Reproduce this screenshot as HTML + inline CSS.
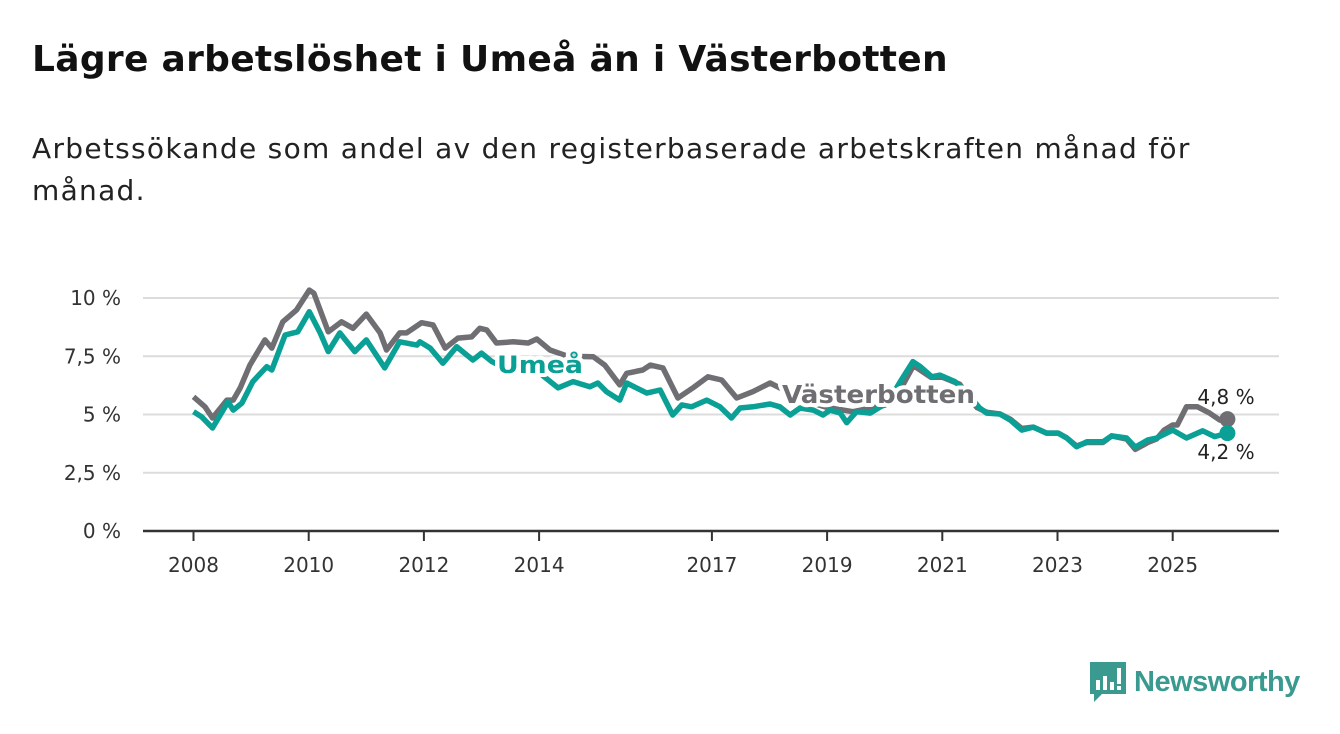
<!DOCTYPE html>
<html><head><meta charset="utf-8">
<style>
body{margin:0;width:1340px;height:734px;background:#fff;font-family:"DejaVu Sans","Liberation Sans",sans-serif;overflow:hidden;position:relative}
h1{position:absolute;left:32px;top:39px;margin:0;font-size:36px;font-weight:bold;color:#111;white-space:nowrap;letter-spacing:0.3px}
p.sub{position:absolute;left:32px;top:128px;margin:0;font-size:28px;color:#222;line-height:42px;width:1290px;letter-spacing:1.3px;white-space:nowrap}
svg{position:absolute;left:0;top:0}
</style></head>
<body>
<h1>Lägre arbetslöshet i Umeå än i Västerbotten</h1>
<p class="sub">Arbetssökande som andel av den registerbaserade arbetskraften månad för<br>månad.</p>
<svg id="chart" width="1340" height="734"></svg>
<div style="position:absolute;left:1088px;top:660px;display:flex;align-items:center">
<svg width="40" height="44" viewBox="0 0 40 44" style="position:static"><path d="M2 2h36v32H14l-8 8v-8H2z" fill="#3a9a8f"/><rect x="8" y="20" width="4" height="10" fill="#fff"/><rect x="15" y="16" width="4" height="14" fill="#fff"/><rect x="22" y="22" width="4" height="8" fill="#fff"/><rect x="29" y="8" width="4" height="16" fill="#fff"/><rect x="29" y="26" width="4" height="4" fill="#fff"/></svg>
<span style="font-family:'Liberation Sans',sans-serif;font-size:29px;font-weight:bold;color:#3a9a8f;margin-left:6px;letter-spacing:-0.5px">Newsworthy</span>
</div>
<script>
const yTicks=[0,2.5,5,7.5,10];
const yTickLabels=["0 %","2,5 %","5 %","7,5 %","10 %"];
const xTicks=[2008,2010,2012,2014,2017,2019,2021,2023,2025];
const umeaDates=[2008,2008.14,2008.33,2008.6,2008.69,2008.84,2009.03,2009.27,2009.36,2009.59,2009.81,2010.01,2010.2,2010.34,2010.54,2010.8,2011.0,2011.32,2011.58,2011.88,2011.93,2012.11,2012.33,2012.57,2012.85,2013.0,2013.18,2013.4,2013.7,2014.0,2014.2,2014.33,2014.59,2014.88,2015.02,2015.17,2015.4,2015.52,2015.87,2016.1,2016.32,2016.48,2016.65,2016.91,2017.14,2017.34,2017.49,2017.71,2018.01,2018.18,2018.36,2018.53,2018.76,2018.93,2019.05,2019.23,2019.34,2019.51,2019.75,2019.89,2020.05,2020.27,2020.49,2020.62,2020.82,2020.96,2021.22,2021.4,2021.65,2021.77,2022.0,2022.18,2022.38,2022.58,2022.81,2023.01,2023.16,2023.33,2023.51,2023.79,2023.94,2024.2,2024.35,2024.57,2024.72,2025.0,2025.24,2025.52,2025.73,2025.95];
const umeaValues=[5.12,4.9,4.42,5.55,5.19,5.49,6.41,7.05,6.91,8.41,8.55,9.41,8.5,7.7,8.5,7.7,8.2,7.0,8.12,7.98,8.12,7.85,7.2,7.91,7.34,7.63,7.27,7.0,7.1,6.8,6.4,6.14,6.41,6.19,6.35,5.98,5.62,6.35,5.92,6.05,4.98,5.41,5.33,5.62,5.33,4.85,5.28,5.33,5.45,5.33,4.98,5.28,5.19,4.98,5.19,5.06,4.65,5.12,5.06,5.28,5.5,6.41,7.27,7.05,6.62,6.69,6.41,6.0,5.28,5.06,5.02,4.76,4.33,4.46,4.2,4.2,3.99,3.62,3.83,3.83,4.08,3.99,3.6,3.91,3.99,4.33,3.99,4.3,4.05,4.2];
const vbDates=[2008,2008.2,2008.33,2008.58,2008.69,2008.81,2008.98,2009.24,2009.36,2009.55,2009.79,2010.01,2010.09,2010.34,2010.57,2010.77,2011.0,2011.24,2011.35,2011.58,2011.7,2011.96,2012.16,2012.37,2012.59,2012.83,2012.97,2013.09,2013.26,2013.55,2013.81,2013.96,2014.19,2014.5,2014.94,2015.14,2015.4,2015.52,2015.8,2015.93,2016.15,2016.41,2016.67,2016.93,2017.17,2017.43,2017.71,2018.01,2018.18,2018.6,2019.0,2019.45,2020.0,2020.3,2020.5,2020.8,2021.0,2021.3,2021.6,2021.77,2022.0,2022.18,2022.38,2022.58,2022.81,2023.01,2023.16,2023.33,2023.51,2023.79,2023.94,2024.2,2024.35,2024.57,2024.72,2024.85,2025.0,2025.08,2025.24,2025.43,2025.64,2025.82,2025.95];
const vbValues=[5.76,5.33,4.85,5.62,5.62,6.14,7.12,8.2,7.85,8.98,9.49,10.34,10.2,8.55,8.98,8.7,9.31,8.5,7.77,8.5,8.5,8.94,8.84,7.85,8.28,8.33,8.7,8.63,8.07,8.12,8.07,8.24,7.77,7.5,7.48,7.12,6.27,6.77,6.91,7.12,7.0,5.71,6.14,6.62,6.48,5.71,5.98,6.35,6.14,5.6,5.3,5.12,5.4,6.2,7.1,6.6,6.6,6.3,5.3,5.1,5.02,4.8,4.4,4.46,4.2,4.2,4.0,3.65,3.8,3.8,4.08,3.95,3.5,3.8,3.95,4.33,4.55,4.55,5.33,5.33,5.06,4.76,4.8];
const lastLabels=["4,8 %","4,2 %"];

const NS="http://www.w3.org/2000/svg";
const svg=document.getElementById('chart');
const X=y=>193.5+(y-2008)*57.6;
const Y=v=>531-v*23.3;
function el(t,a){const e=document.createElementNS(NS,t);for(const k in a)e.setAttribute(k,a[k]);svg.appendChild(e);return e;}
yTicks.forEach((t,i)=>{
  if(t>0){const g=el('line',{x1:143,x2:1279,y1:Y(t),y2:Y(t),stroke:'#dcdcdc','stroke-width':2});
  
  }
  const tx=el('text',{x:121,y:Y(t)+7,'text-anchor':'end','font-size':20,fill:'#333'});
  tx.textContent=yTickLabels[i];
  
  
});
const ax=el('line',{x1:143,x2:1279,y1:531,y2:531,stroke:'#333','stroke-width':2.5});


xTicks.forEach(t=>{
  const tk=el('line',{x1:X(t),x2:X(t),y1:531,y2:541,stroke:'#333','stroke-width':2});
  
  
  const tx=el('text',{x:X(t),y:572,'text-anchor':'middle','font-size':20,fill:'#333'});
  tx.textContent=t;
  
  
});
function path(d,v){return d.map((t,i)=>(i?'L':'M')+X(t).toFixed(1)+','+Y(v[i]).toFixed(1)).join('');}
const l1=el('path',{d:path(vbDates,vbValues),fill:'none',stroke:'#6f6e73','stroke-width':5.5,'stroke-linejoin':'round'});


const l2=el('path',{d:path(umeaDates,umeaValues),fill:'none',stroke:'#0aa095','stroke-width':5.5,'stroke-linejoin':'round'});


const n1=vbDates.length-1,n2=umeaDates.length-1;
const d1=el('circle',{cx:X(vbDates[n1]),cy:Y(vbValues[n1]),r:8,fill:'#6f6e73'});


const d2=el('circle',{cx:X(umeaDates[n2]),cy:Y(umeaValues[n2]),r:8,fill:'#0aa095'});


const e1=el('text',{x:1226,y:404,'text-anchor':'middle','font-size':20,fill:'#222'});
e1.textContent=lastLabels[0];


const e2=el('text',{x:1226,y:459,'text-anchor':'middle','font-size':20,fill:'#222'});
e2.textContent=lastLabels[1];


const s1=el('text',{x:497,y:373,'font-size':24,'font-weight':'bold',fill:'#0aa095',stroke:'#fff','stroke-width':8,'paint-order':'stroke','stroke-linejoin':'round','textLength':86,'lengthAdjust':'spacingAndGlyphs'});
s1.textContent='Umeå';


const s2=el('text',{x:782,y:403,'font-size':25,'font-weight':'bold',fill:'#6f6e73',stroke:'#fff','stroke-width':8,'paint-order':'stroke','stroke-linejoin':'round','textLength':193,'lengthAdjust':'spacingAndGlyphs'});
s2.textContent='Västerbotten';


</script>
</body></html>
